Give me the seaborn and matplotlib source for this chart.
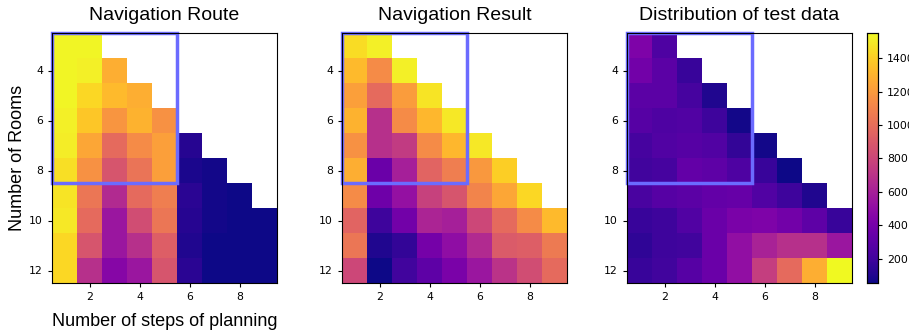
import numpy as np
import pandas as pd
import matplotlib.pyplot as plt
import seaborn as sns
from matplotlib.patches import Rectangle

# axes values
rooms = list(range(3, 13))
steps = list(range(1, 10))
xtick_steps = [2, 4, 6, 8]
ytick_rooms = [4, 6, 8, 10, 12]

# highlighted region (steps 1-5, rooms 3-8)
box_steps = (1, 5)
box_rooms = (3, 8)

# one list per room count, values for steps 1..n (estimated from the figure)
route_acc = [
    [0.99, 0.99],
    [0.99, 0.98, 0.82],
    [0.99, 0.92, 0.85, 0.82],
    [0.98, 0.88, 0.75, 0.83, 0.74],
    [0.97, 0.80, 0.62, 0.72, 0.78, 0.04],
    [0.94, 0.74, 0.55, 0.65, 0.78, 0.02, 0.01],
    [0.95, 0.66, 0.40, 0.62, 0.68, 0.05, 0.01, 0.00],
    [0.96, 0.62, 0.33, 0.52, 0.66, 0.04, 0.01, 0.00, 0.00],
    [0.92, 0.55, 0.33, 0.42, 0.58, 0.03, 0.00, 0.00, 0.00],
    [0.92, 0.42, 0.27, 0.33, 0.55, 0.05, 0.00, 0.00, 0.00],
]

result_acc = [
    [0.93, 0.98],
    [0.85, 0.72, 0.98],
    [0.78, 0.62, 0.77, 0.95],
    [0.83, 0.42, 0.72, 0.84, 0.96],
    [0.74, 0.42, 0.46, 0.72, 0.84, 0.96],
    [0.82, 0.20, 0.36, 0.60, 0.68, 0.76, 0.90],
    [0.72, 0.21, 0.31, 0.48, 0.55, 0.70, 0.80, 0.92],
    [0.60, 0.09, 0.22, 0.38, 0.36, 0.50, 0.62, 0.72, 0.85],
    [0.66, 0.03, 0.07, 0.23, 0.30, 0.40, 0.57, 0.58, 0.67],
    [0.50, 0.00, 0.10, 0.17, 0.24, 0.33, 0.43, 0.52, 0.62],
]

test_count = [
    [430, 250],
    [385, 295, 175],
    [295, 295, 220, 100],
    [280, 250, 265, 190, 70],
    [220, 265, 280, 265, 160, 70],
    [205, 220, 325, 310, 250, 175, 55],
    [235, 280, 295, 325, 340, 265, 190, 100],
    [175, 190, 265, 355, 415, 430, 385, 310, 175],
    [145, 190, 205, 355, 505, 610, 685, 685, 550],
    [175, 205, 280, 355, 505, 760, 980, 1280, 1550],
]

titles = ["Navigation Route", "Navigation Result", "Distribution of test data"]
cbar_ticks = [200, 400, 600, 800, 1000, 1200, 1400]


def to_frame(rows):
    grid = np.full((len(rooms), len(steps)), np.nan)
    for i, r in enumerate(rows):
        grid[i, :len(r)] = r
    return pd.DataFrame(grid, index=rooms, columns=steps)


frames = [to_frame(route_acc), to_frame(result_acc), to_frame(test_count)]
limits = [(0, 1), (0, 1), (None, None)]

W, H = 909, 335
fig = plt.figure(figsize=(W / 100, H / 100), dpi=100)
lefts = [52, 342, 627]
axes = [fig.add_axes([l / W, 52 / H, 225 / W, 250 / H]) for l in lefts]
cax = fig.add_axes([867 / W, 52 / H, 11 / W, 250 / H])

label_font = dict(family="Liberation Sans", fontsize=13)

for i, (ax, df, title, (vmin, vmax)) in enumerate(zip(axes, frames, titles, limits)):
    last = i == len(axes) - 1
    sns.heatmap(df, ax=ax, cmap="plasma", vmin=vmin, vmax=vmax,
                cbar=last, cbar_ax=cax if last else None)
    ax.set_xticks([steps.index(s) + 0.5 for s in xtick_steps])
    ax.set_xticklabels([str(s) for s in xtick_steps], rotation=0, fontsize=7.8)
    ax.set_yticks([rooms.index(r) + 0.5 for r in ytick_rooms])
    ax.set_yticklabels([str(r) for r in ytick_rooms], rotation=0, fontsize=7.8)
    ax.tick_params(length=3, width=0.8)
    for sp in ax.spines.values():
        sp.set_visible(True)
        sp.set_linewidth(0.8)
        sp.set_color("black")
    ax.set_title(title, pad=9, family="Liberation Sans", fontsize=14)
    ax.set_xlabel("")
    ax.set_ylabel("")

    x0 = steps.index(box_steps[0])
    y0 = rooms.index(box_rooms[0])
    ax.add_patch(Rectangle((x0, y0), box_steps[1] - box_steps[0] + 1,
                           box_rooms[1] - box_rooms[0] + 1, fill=False,
                           edgecolor="#6b6bff", lw=2.5, clip_on=False))

axes[0].set_ylabel("Number of Rooms", labelpad=2, **label_font)
axes[0].set_xlabel("Number of steps of planning", labelpad=8, **label_font)

cax.set_yticks(cbar_ticks)
cax.tick_params(labelsize=7.8, length=3, width=0.8)
for sp in cax.spines.values():
    sp.set_visible(True)
    sp.set_linewidth(0.8)

fig.savefig("out.png", dpi=100)
